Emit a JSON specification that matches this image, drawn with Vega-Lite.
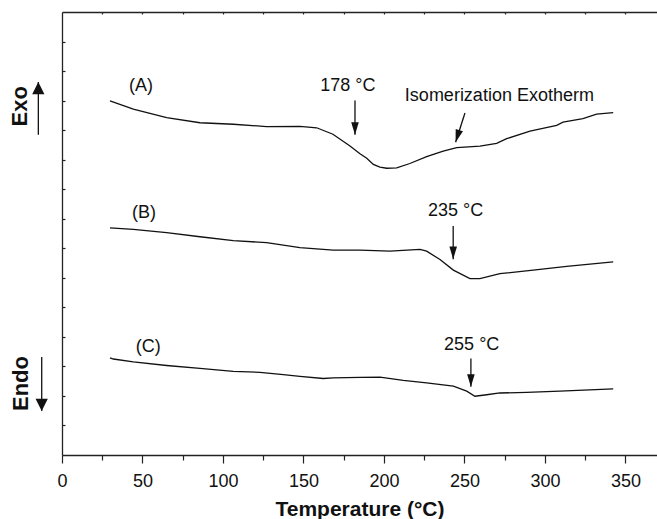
{
  "$schema": "https://vega.github.io/schema/vega-lite/v6.json",
  "width": 595,
  "height": 443,
  "autosize": {"type": "none"},
  "padding": {"left": 62, "top": 12, "right": 0, "bottom": 64},
  "background": "white",
  "config": {
    "view": {"stroke": null},
    "font": "Liberation Sans",
    "axis": {"domainColor": "#222", "tickColor": "#222", "domainWidth": 1.3, "tickWidth": 1.2, "grid": false, "labelColor": "#111", "titleColor": "#111"}
  },
  "datasets": {
    "curves": [
      {"T": 29.8, "hf": 11.99, "s": "A"}, {"T": 44.3, "hf": 11.71, "s": "A"}, {"T": 65.0, "hf": 11.42, "s": "A"}, {"T": 85.7, "hf": 11.25, "s": "A"},
      {"T": 106.4, "hf": 11.2, "s": "A"}, {"T": 127.1, "hf": 11.12, "s": "A"}, {"T": 147.8, "hf": 11.13, "s": "A"}, {"T": 158.2, "hf": 11.08, "s": "A"},
      {"T": 168.3, "hf": 10.86, "s": "A"}, {"T": 178.9, "hf": 10.46, "s": "A"}, {"T": 185.1, "hf": 10.2, "s": "A"}, {"T": 189.3, "hf": 10.05, "s": "A"},
      {"T": 193.4, "hf": 9.84, "s": "A"}, {"T": 197.5, "hf": 9.75, "s": "A"}, {"T": 201.7, "hf": 9.71, "s": "A"}, {"T": 207.9, "hf": 9.72, "s": "A"},
      {"T": 216.1, "hf": 9.87, "s": "A"}, {"T": 226.5, "hf": 10.1, "s": "A"}, {"T": 236.8, "hf": 10.29, "s": "A"}, {"T": 245.2, "hf": 10.41, "s": "A"},
      {"T": 259.6, "hf": 10.46, "s": "A"}, {"T": 270.0, "hf": 10.55, "s": "A"}, {"T": 276.2, "hf": 10.71, "s": "A"}, {"T": 290.7, "hf": 10.97, "s": "A"},
      {"T": 307.3, "hf": 11.16, "s": "A"}, {"T": 311.2, "hf": 11.27, "s": "A"}, {"T": 323.6, "hf": 11.39, "s": "A"}, {"T": 332.1, "hf": 11.54, "s": "A"},
      {"T": 342.4, "hf": 11.59, "s": "A"},
      {"T": 29.8, "hf": 7.69, "s": "B"}, {"T": 44.3, "hf": 7.64, "s": "B"}, {"T": 65.0, "hf": 7.53, "s": "B"}, {"T": 85.7, "hf": 7.39, "s": "B"},
      {"T": 106.4, "hf": 7.26, "s": "B"}, {"T": 127.1, "hf": 7.19, "s": "B"}, {"T": 147.8, "hf": 7.02, "s": "B"}, {"T": 168.5, "hf": 6.94, "s": "B"},
      {"T": 185.1, "hf": 6.94, "s": "B"}, {"T": 203.7, "hf": 6.9, "s": "B"}, {"T": 222.4, "hf": 6.96, "s": "B"}, {"T": 226.5, "hf": 6.9, "s": "B"},
      {"T": 234.8, "hf": 6.62, "s": "B"}, {"T": 243.1, "hf": 6.26, "s": "B"}, {"T": 253.4, "hf": 5.97, "s": "B"}, {"T": 259.6, "hf": 5.97, "s": "B"},
      {"T": 272.0, "hf": 6.14, "s": "B"}, {"T": 292.7, "hf": 6.26, "s": "B"}, {"T": 313.5, "hf": 6.39, "s": "B"}, {"T": 342.4, "hf": 6.54, "s": "B"},
      {"T": 29.8, "hf": 3.29, "s": "C"}, {"T": 31.9, "hf": 3.25, "s": "C"}, {"T": 44.3, "hf": 3.15, "s": "C"}, {"T": 65.0, "hf": 3.03, "s": "C"},
      {"T": 85.7, "hf": 2.93, "s": "C"}, {"T": 106.4, "hf": 2.83, "s": "C"}, {"T": 123.0, "hf": 2.8, "s": "C"}, {"T": 137.5, "hf": 2.72, "s": "C"},
      {"T": 147.8, "hf": 2.66, "s": "C"}, {"T": 162.3, "hf": 2.59, "s": "C"}, {"T": 168.5, "hf": 2.61, "s": "C"}, {"T": 185.1, "hf": 2.63, "s": "C"},
      {"T": 197.5, "hf": 2.64, "s": "C"}, {"T": 212.0, "hf": 2.53, "s": "C"}, {"T": 226.5, "hf": 2.44, "s": "C"}, {"T": 243.1, "hf": 2.33, "s": "C"},
      {"T": 251.4, "hf": 2.16, "s": "C"}, {"T": 256.5, "hf": 1.99, "s": "C"}, {"T": 263.8, "hf": 2.04, "s": "C"}, {"T": 272.0, "hf": 2.1, "s": "C"},
      {"T": 288.6, "hf": 2.12, "s": "C"}, {"T": 309.3, "hf": 2.16, "s": "C"}, {"T": 342.4, "hf": 2.24, "s": "C"}
    ],
    "labels": [
      {"x": 49.0, "y": 12.5, "text": "(A)", "kind": "plain"},
      {"x": 177.6, "y": 12.5, "text": "178 °C", "kind": "plain"},
      {"x": 271.7, "y": 12.17, "text": "Isomerization Exotherm", "kind": "plain"},
      {"x": 51.0, "y": 8.21, "text": "(B)", "kind": "plain"},
      {"x": 244.5, "y": 8.26, "text": "235 °C", "kind": "plain"},
      {"x": 53.6, "y": 3.67, "text": "(C)", "kind": "plain"},
      {"x": 254.5, "y": 3.72, "text": "255 °C", "kind": "plain"},
      {"x": -26.1, "y": 11.81, "text": "Exo", "kind": "side"},
      {"x": -25.7, "y": 2.42, "text": "Endo", "kind": "side"}
    ],
    "arrows": [
      {"x": 182.0, "y": 12.0, "x2": 182.0, "y2": 10.84, "kind": "small"},
      {"x": 243.0, "y": 7.75, "x2": 243.0, "y2": 6.63, "kind": "small"},
      {"x": 254.0, "y": 3.27, "x2": 254.0, "y2": 2.31, "kind": "small"},
      {"x": 250.3, "y": 11.58, "x2": 244.5, "y2": 10.59, "kind": "slant"},
      {"x": -14.7, "y": 10.84, "x2": -14.7, "y2": 12.63, "kind": "up"},
      {"x": -12.6, "y": 3.32, "x2": -12.6, "y2": 1.49, "kind": "down"}
    ]
  },
  "resolve": {"axis": {"x": "independent", "y": "independent"}},
  "layer": [
    {
      "data": {"name": "curves"},
      "mark": {"type": "line", "color": "#111", "strokeWidth": 1.3},
      "encoding": {
        "x": {"field": "T", "type": "quantitative", "scale": {"domain": [0, 369.6], "nice": false, "zero": false},
          "axis": {"orient": "bottom", "values": [0, 25, 50, 75, 100, 125, 150, 175, 200, 225, 250, 275, 300, 325, 350],
            "labelExpr": "datum.value % 50 === 0 ? datum.label : ''",
            "tickSize": {"condition": {"test": "datum.value % 50 === 0", "value": 8}, "value": 5},
            "labelFontSize": 18, "labelPadding": 9, "labelFlush": false,
            "title": "Temperature (°C)", "titleFontSize": 21, "titleFontWeight": "bold", "titlePadding": 8}},
        "y": {"field": "hf", "type": "quantitative", "scale": {"domain": [0, 15], "nice": false, "zero": false},
          "axis": {"orient": "left", "ticks": false, "labels": false, "title": null}},
        "detail": {"field": "s"}
      }
    },
    {
      "data": {"name": "arrows"},
      "mark": {"type": "rule", "color": "#111", "strokeWidth": 1.3},
      "encoding": {
        "x": {"field": "x", "type": "quantitative", "scale": {"domain": [0, 369.6], "nice": false, "zero": false},
          "axis": {"orient": "top", "ticks": false, "labels": false, "title": null}},
        "x2": {"field": "x2"},
        "y": {"field": "y", "type": "quantitative", "scale": {"domain": [0, 15], "nice": false, "zero": false},
          "axis": {"orient": "left", "values": [1,2,3,4,5,6,7,8,9,10,11,12,13,14], "domain": false, "labels": false, "tickSize": 3, "offset": -3, "title": null}},
        "y2": {"field": "y2"}
      }
    },
    {
      "data": {"name": "arrows"},
      "transform": [{"filter": "datum.kind === 'small'"}],
      "mark": {"type": "point", "shape": "M-0.6,-2L0.6,-2L0,0Z", "size": 160, "filled": true, "color": "#111", "opacity": 1},
      "encoding": {
        "x": {"field": "x2", "type": "quantitative", "scale": {"domain": [0, 369.6], "nice": false, "zero": false},
          "axis": {"orient": "top", "values": [25, 50, 75, 100, 125, 150, 175, 200, 225, 250, 275, 300, 325, 350], "domain": false, "labels": false, "tickSize": 2, "offset": -2, "title": null}},
        "y": {"field": "y2", "type": "quantitative", "axis": null}
      }
    },
    {
      "data": {"name": "arrows"},
      "transform": [{"filter": "datum.kind === 'slant'"}],
      "mark": {"type": "point", "shape": "M-0.6,-2L0.6,-2L0,0Z", "size": 160, "filled": true, "color": "#111", "opacity": 1, "angle": 17},
      "encoding": {
        "x": {"field": "x2", "type": "quantitative", "axis": null},
        "y": {"field": "y2", "type": "quantitative", "axis": null}
      }
    },
    {
      "data": {"name": "arrows"},
      "transform": [{"filter": "datum.kind === 'up'"}],
      "mark": {"type": "point", "shape": "M-1,2L1,2L0,0Z", "size": 150, "filled": true, "color": "#111", "opacity": 1},
      "encoding": {
        "x": {"field": "x2", "type": "quantitative", "axis": null},
        "y": {"field": "y2", "type": "quantitative", "axis": null}
      }
    },
    {
      "data": {"name": "arrows"},
      "transform": [{"filter": "datum.kind === 'down'"}],
      "mark": {"type": "point", "shape": "M-1,-2L1,-2L0,0Z", "size": 150, "filled": true, "color": "#111", "opacity": 1},
      "encoding": {
        "x": {"field": "x2", "type": "quantitative", "axis": null},
        "y": {"field": "y2", "type": "quantitative", "axis": null}
      }
    },
    {
      "data": {"name": "labels"},
      "transform": [{"filter": "datum.kind === 'plain'"}],
      "mark": {"type": "text", "fontSize": 18, "color": "#111", "align": "center", "baseline": "middle"},
      "encoding": {
        "x": {"field": "x", "type": "quantitative", "axis": null},
        "y": {"field": "y", "type": "quantitative", "axis": null},
        "text": {"field": "text"}
      }
    },
    {
      "data": {"name": "labels"},
      "transform": [{"filter": "datum.kind === 'side'"}],
      "mark": {"type": "text", "fontSize": 22, "fontWeight": "bold", "color": "#111", "align": "center", "baseline": "middle", "angle": 270},
      "encoding": {
        "x": {"field": "x", "type": "quantitative", "axis": null},
        "y": {"field": "y", "type": "quantitative", "axis": null},
        "text": {"field": "text"}
      }
    }
  ]
}
